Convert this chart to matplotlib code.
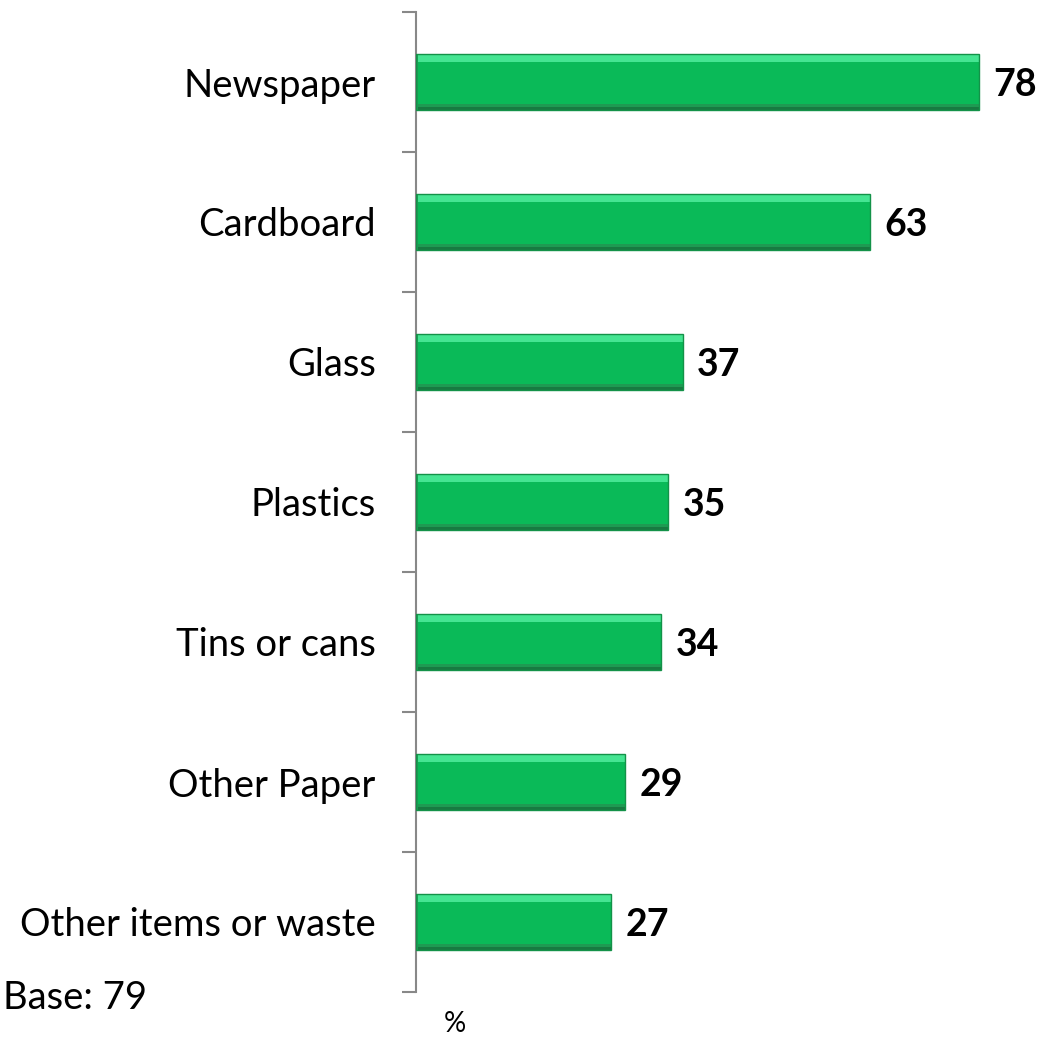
import matplotlib.pyplot as plt
import numpy as np

categories = ['Newspaper', 'Cardboard', 'Glass', 'Plastics', 'Tins or cans',
              'Other Paper', 'Other items or waste']
values = [78, 63, 37, 35, 34, 29, 27]
base_text = 'Base: 79'
unit_text = '%'

plt.rcParams['font.family'] = ['Lato', 'DejaVu Sans']

fig = plt.figure(figsize=(10.39, 10.37), dpi=100)
ax = fig.add_axes([416 / 1039, 1 - 992 / 1037, 577 / 1039, 980 / 1037])

y = np.arange(len(categories))[::-1]
h = 0.4

# main bar plus bevel strips (light top, dark bottom)
ax.barh(y, values, height=h, color='#0ABA58', edgecolor='none', zorder=2)
ax.barh(y + h / 2 - 0.03, values, height=0.05, color='#45E592', edgecolor='none', zorder=3)
ax.barh(y + h / 2 - 0.005, values, height=0.01, color='#1FCF70', edgecolor='none', zorder=3)
ax.barh(y - h / 2 + 0.03, values, height=0.03, color='#1E9A52', edgecolor='none', zorder=3)
ax.barh(y - h / 2 + 0.009, values, height=0.018, color='#177A41', edgecolor='none', zorder=3)
ax.barh(y, [0.25] * len(values), height=h, color='#1F9A55', edgecolor='none', zorder=3)
ax.barh(y, values, height=h, color='none', edgecolor='#139248', linewidth=1, zorder=4)

for yi, v in zip(y, values):
    ax.text(v + 2.0, yi - 0.02, str(v), va='center', ha='left',
            fontsize=27, fontweight='bold', color='black')

ax.set_xlim(0, 80)
ax.set_ylim(-0.5, len(categories) - 0.5)

ax.set_yticks(y)
ax.set_yticklabels(categories, fontsize=27.5)
ax.set_yticks(np.arange(-0.5, len(categories), 1), minor=True)
ax.tick_params(axis='y', which='major', length=0, pad=29)
ax.tick_params(axis='y', which='minor', length=10, width=1.5, color='#888888')
ax.set_xticks([])

for s in ['top', 'right', 'bottom']:
    ax.spines[s].set_visible(False)
ax.spines['left'].set_color('#888888')
ax.spines['left'].set_linewidth(1.5)

fig.text(3 / 1039, 1 - 998 / 1037, base_text, ha='left', va='center', fontsize=27.5)
fig.text(455 / 1039, 1 - 1024 / 1037, unit_text, ha='center', va='center', fontsize=20)

fig.savefig('out.png', dpi=100)
